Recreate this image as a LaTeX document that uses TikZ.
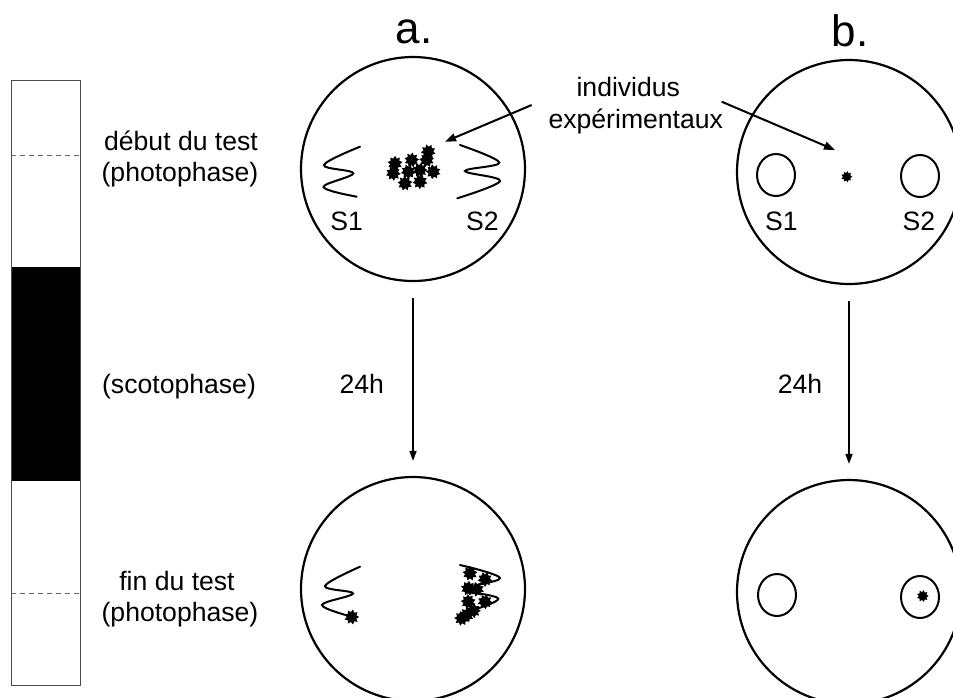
\documentclass[tikz,border=0pt]{standalone}
\usepackage{fontspec}
\setmainfont{Liberation Sans}
\usetikzlibrary{arrows.meta}
\begin{document}
\begin{tikzpicture}[x=1pt,y=-1pt,
  lbl/.style={anchor=base,inner sep=0pt,font=\fontsize{26.6}{31.7}\selectfont},
  big/.style={anchor=base,inner sep=0pt,font=\fontsize{44}{50}\selectfont},
  dish/.style={circle,draw,line width=2.2pt,minimum size=224pt,inner sep=0pt},
  trap/.style={line width=2pt},
  wave/.style={line width=2pt,line cap=round},
  flow/.style={line width=1.6pt,-{Triangle[length=10pt,width=7pt]}},
  pointer/.style={line width=2pt,-{Triangle[length=11pt,width=8pt]}},
  bug/.pic={\fill (0:7.5pt) \foreach \k in {1,...,9}{ -- (\k*40-20:5pt) -- (\k*40:7.5pt)} -- cycle;}]
\useasboundingbox (0,0) rectangle (953,697);
\clip (0,0) rectangle (953,697);

% light / dark bar
\fill[black] (11,267.3) rectangle (80.7,480.7);
\draw[line width=1pt,black!70] (11,80.7) rectangle (80.7,685.7);
\draw[line width=1pt,black!60,dash pattern=on 5pt off 4pt] (11,155) -- (80.7,155);
\draw[line width=1pt,black!60,dash pattern=on 5pt off 4pt] (11,593.3) -- (80.7,593.3);

% phase labels
\node[lbl] (debut) at (181,150) {début du test};
\node[lbl] (photo1) at (180,181.7) {(photophase)};
\node[lbl] (scoto) at (179,393.3) {(scotophase)};
\node[lbl] (fin) at (177,590) {fin du test};
\node[lbl] (photo2) at (180,621.7) {(photophase)};

% column headers
\node[big] (ta) at (414,43.3) {a.};
\node[big] (tb) at (850,46.7) {b.};

% dishes
\node[dish] (at) at (413,169) {};
\node[dish] (ab) at (413,589) {};
\node[dish] (bt) at (849,172) {};
\node[dish] (bb) at (849,592) {};

% 24 h transitions
\draw[flow] ([yshift=-16pt]at.south) -- ([yshift=15pt]ab.north);
\draw[flow] ([yshift=-16pt]bt.south) -- ([yshift=15pt]bb.north);
\node[lbl] (ha) at (361.7,393.3) {24h};
\node[lbl] (hb) at (800,393.3) {24h};

% label for the individuals
\node[lbl] (ind1) at (628.3,96.7) {individus};
\node[lbl] (ind2) at (635.8,128.3) {expérimentaux};
\coordinate (pa0) at (531.7,105);
\coordinate (pa1) at (445,141.7);
\coordinate (pb0) at (721.7,101.7);
\coordinate (pb1) at (835,150);
\draw[pointer] (pa0) -- (pa1);
\draw[pointer] (pb0) -- (pb1);

% --- a, start: odour sources and released group
\draw[wave] plot[smooth,tension=0.6] coordinates {(360,146.7) (324,165) (353.3,173.3) (323.5,187) (356.7,196.7)};
\draw[wave] plot[smooth,tension=0.6] coordinates {(460,145) (499.3,162.5) (465,171) (500,181) (457.3,198.3)};
\foreach \p/\r in {(395,163.3)/10,(393.3,173.3)/35,(411.7,160)/5,(428.3,151.7)/25,(426.7,160)/15,
                   (408.3,171.7)/30,(420,170)/0,(433.3,171.7)/20,(405,183.3)/12,(420,181.7)/28}
  \pic[rotate=\r] at \p {bug};
\node[lbl] (sa1) at (346.7,230) {S1};
\node[lbl] (sa2) at (482.5,230) {S2};

% --- a, end: individuals gathered on S2
\draw[wave] plot[smooth,tension=0.6] coordinates {(360,566.7) (325,586) (353,593.5) (322,605) (351.7,616.7)};
\pic at (351.7,617) {bug};
\draw[wave] plot[smooth,tension=0.6] coordinates {(460,565) (500,578) (465,589) (498.3,598.5) (473,610)};
\foreach \p/\r in {(470,573.3)/10,(485,579.3)/30,(468.3,588.3)/5,(476.7,589.3)/22,(468.3,601.7)/15,
                   (485,601.7)/35,(473.3,610.7)/0,(461.7,618.3)/18,(466.7,615)/8}
  \pic[rotate=\r] at \p {bug};

% --- b, start: two traps and one individual
\draw[trap] (776,175) ellipse [x radius=19, y radius=21];
\draw[trap] (920,176) ellipse [x radius=19, y radius=21];
\pic[scale=0.75] at (846.7,176.7) {bug};
\node[lbl] (sb1) at (781.3,230) {S1};
\node[lbl] (sb2) at (919,230) {S2};

% --- b, end: individual inside S2
\draw[trap] (777,595) ellipse [x radius=19, y radius=21];
\draw[trap] (920,597) ellipse [x radius=19, y radius=21];
\pic[scale=0.8] at (922.7,596) {bug};
\end{tikzpicture}
\end{document}
